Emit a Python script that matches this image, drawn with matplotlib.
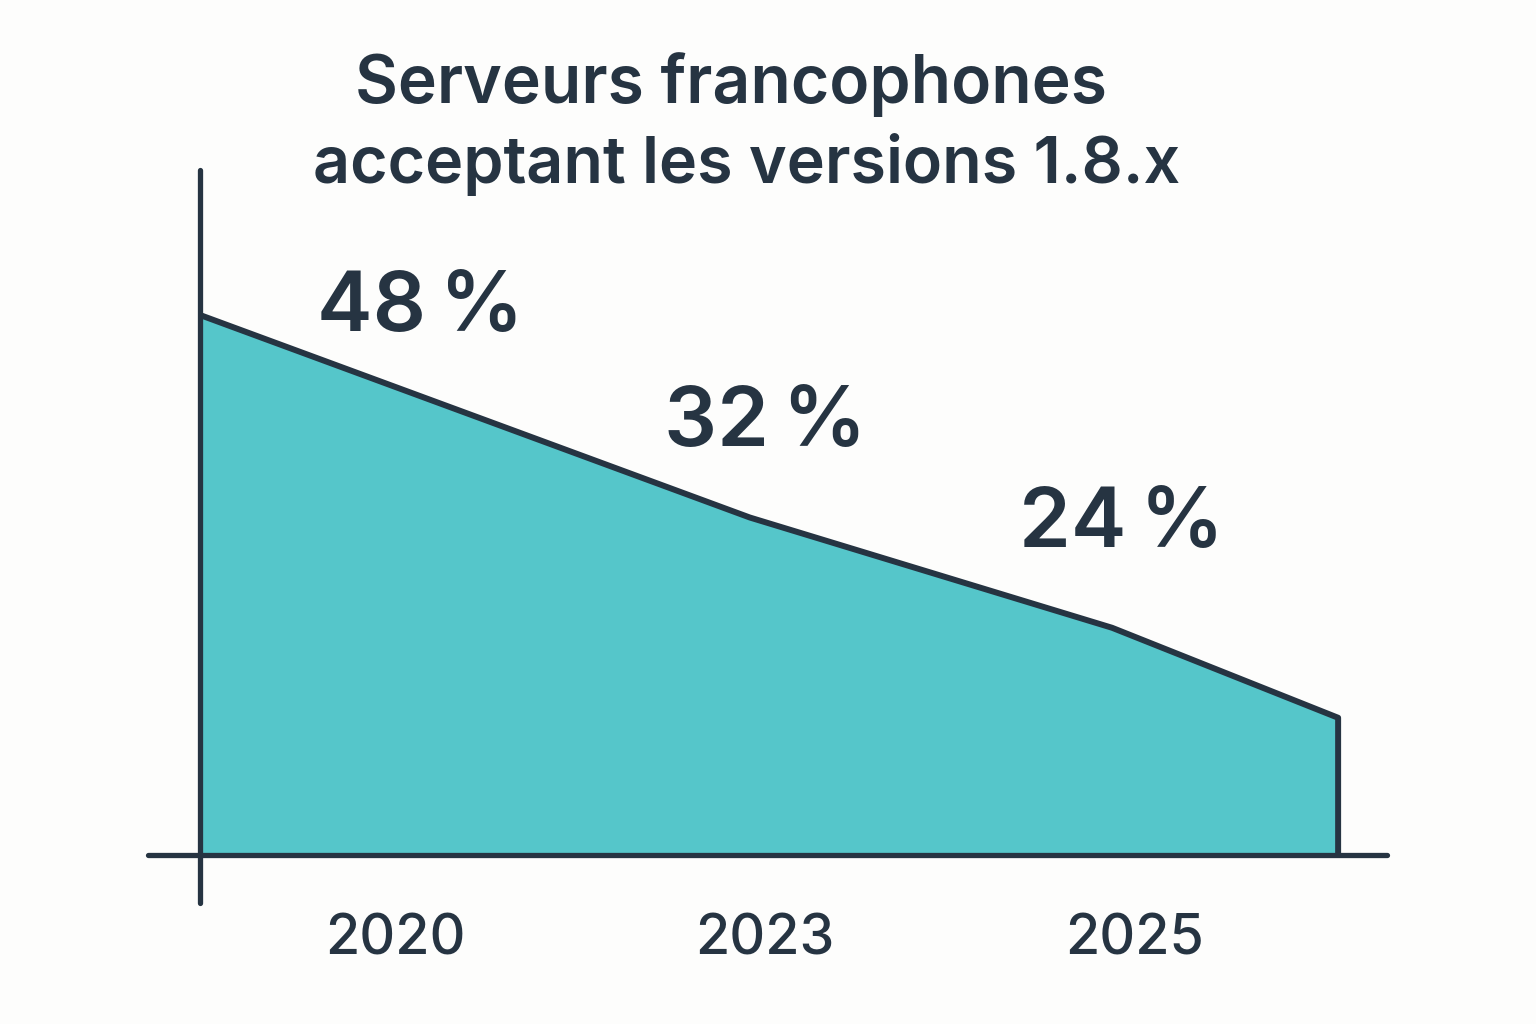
import matplotlib
matplotlib.use("Agg")
import matplotlib.pyplot as plt
import numpy as np

# ---- data ----
title_lines = ["Serveurs francophones", "acceptant les versions 1.8.x"]
years = ["2020", "2023", "2025"]
share_pct = [48, 32, 24]
value_labels = ["48\u202f%", "32\u202f%", "24\u202f%"]
# outline of the filled area (category-position units, percent)
curve_pos = [-0.527, 0.959, 1.938, 2.549]
curve_vals = [48.0, 30.0, 20.2, 12.2]

# ---- style ----
DARK = "#263442"
FILL = "#55C6CA"
BG = "#FDFDFC"
plt.rcParams['font.family'] = ['Inter', 'DejaVu Sans']

fig = plt.figure(figsize=(15.36, 10.24), dpi=100, facecolor=BG)
ax = fig.add_axes([0, 0, 1, 1])
ax.set_facecolor(BG)
ax.set_xlim(-1.0676, 3.0838)
ax.set_ylim(-15.02, 76.0)
ax.axis('off')

x = np.array(curve_pos)
y = np.array(curve_vals)
ax.fill_between(x, 0, y, color=FILL, zorder=1, linewidth=0)
ax.plot(np.append(x, x[-1]), np.append(y, 0), color=DARK, lw=4.3,
        solid_joinstyle='round', solid_capstyle='butt', zorder=3)

# axes lines
ax.plot([x[0], x[0]], [60.9, -4.27], color=DARK, lw=3.8, solid_capstyle='round', zorder=4)
ax.plot([-0.668, 2.681], [0, 0], color=DARK, lw=3.8, solid_capstyle='round', zorder=4)

# year labels
for i, yr in enumerate(years):
    ax.annotate(yr, (i, 0), xytext=(0, -84), textcoords='offset pixels',
                ha='center', va='center', fontsize=40, fontweight='medium', color=DARK)

# value labels
label_offsets = [(25, 0.5), (0, 6.3), (-14, 5.3)]
for i, (lab, v) in enumerate(zip(value_labels, share_pct)):
    dx, dy = label_offsets[i]
    ax.annotate(lab, (i, v + dy), xytext=(dx, 0), textcoords='offset pixels',
                ha='center', va='center', fontsize=60, fontweight='semibold', color=DARK)

# title
fig.text(0.476, 1 - 85 / 1024, title_lines[0], ha='center', va='center',
         fontsize=47.5, fontweight='semibold', color=DARK)
fig.text(0.486, 1 - 164 / 1024, title_lines[1], ha='center', va='center',
         fontsize=46.5, fontweight='semibold', color=DARK)

fig.savefig("out.png", dpi=100, facecolor=BG)
